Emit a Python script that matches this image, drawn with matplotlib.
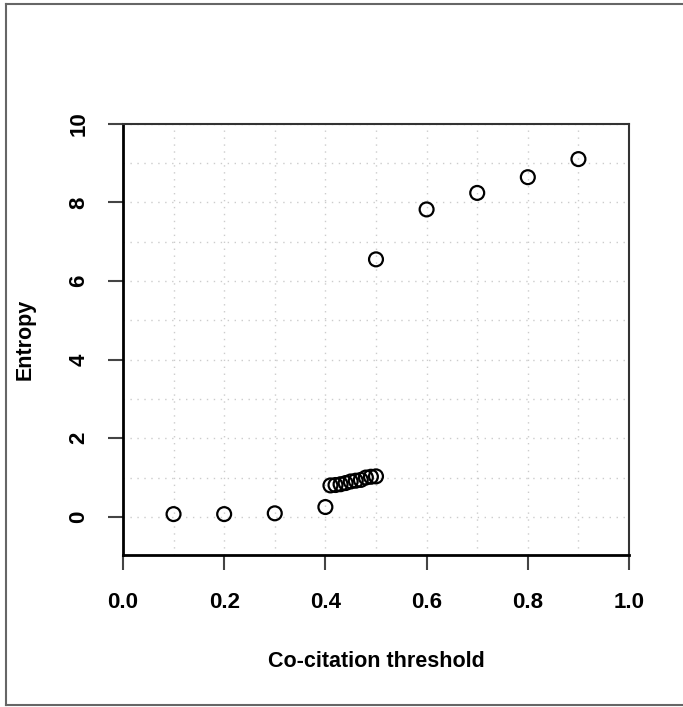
import matplotlib
matplotlib.use('Agg')
import matplotlib.pyplot as plt
from matplotlib.lines import Line2D
import numpy as np

# co-citation threshold vs entropy
threshold = [0.1, 0.2, 0.3, 0.4, 0.41, 0.42, 0.43, 0.44, 0.45, 0.46,
             0.47, 0.48, 0.49, 0.50, 0.5, 0.6, 0.7, 0.8, 0.9]
entropy = [0.07, 0.07, 0.09, 0.25, 0.80, 0.81, 0.83, 0.86, 0.90, 0.92,
           0.94, 1.00, 1.02, 1.03, 6.55, 7.82, 8.24, 8.64, 9.10]

x_ticks = [0.0, 0.2, 0.4, 0.6, 0.8, 1.0]
x_labels = ['0.0', '0.2', '0.4', '0.6', '0.8', '1.0']
y_ticks = [0, 2, 4, 6, 8, 10]

plt.rcParams['font.family'] = ['Liberation Sans', 'DejaVu Sans']

fig = plt.figure(figsize=(6.83, 7.07), dpi=100)
ax = fig.add_axes([0.180, 0.215, 0.741, 0.610])

ax.scatter(threshold, entropy, s=100, facecolors='none', edgecolors='black',
           linewidths=1.6, zorder=3, clip_on=False)

ax.set_xlim(0, 1)
ax.set_ylim(-0.97, 10)
ax.set_xticks(x_ticks)
ax.set_xticklabels(x_labels)
ax.set_yticks(y_ticks)
ax.set_xticks(np.arange(0.1, 1.0, 0.2), minor=True)
ax.set_yticks(np.arange(1, 10, 2), minor=True)

# light dotted grid at every 0.1 / 1 unit
ax.grid(True, which='both', color='#cccccc', linestyle=(0, (1, 4)), linewidth=1.0)
ax.set_axisbelow(True)

ax.tick_params(axis='both', which='major', length=11, width=1.5, color='#444444',
               labelsize=16)
ax.tick_params(axis='x', which='major', pad=16)
ax.tick_params(axis='y', which='major', pad=13)
ax.tick_params(axis='both', which='minor', length=0)
for lab in ax.get_xticklabels() + ax.get_yticklabels():
    lab.set_fontweight('bold')
for lab in ax.get_yticklabels():
    lab.set_rotation(90)
    lab.set_va('center')

for side in ['left', 'bottom']:
    ax.spines[side].set_linewidth(2)
    ax.spines[side].set_color('black')
for side in ['top', 'right']:
    ax.spines[side].set_linewidth(1.5)
    ax.spines[side].set_color('#333333')

ax.set_xlabel('Co-citation threshold', fontsize=15.5, fontweight='bold')
ax.set_ylabel('Entropy', fontsize=15.5, fontweight='bold')
ax.xaxis.set_label_coords(0.5, -0.223)
ax.yaxis.set_label_coords(-0.173, 0.5)

# outer frame (right side runs off the image)
frame_col = '#666666'
fig.add_artist(Line2D([6 / 683, 6 / 683], [2 / 707, 703 / 707], transform=fig.transFigure,
                      color=frame_col, linewidth=1.5))
fig.add_artist(Line2D([6 / 683, 1.0], [703 / 707, 703 / 707], transform=fig.transFigure,
                      color=frame_col, linewidth=1.5))
fig.add_artist(Line2D([6 / 683, 1.0], [2 / 707, 2 / 707], transform=fig.transFigure,
                      color=frame_col, linewidth=1.5))

fig.savefig('out.png', dpi=100)
